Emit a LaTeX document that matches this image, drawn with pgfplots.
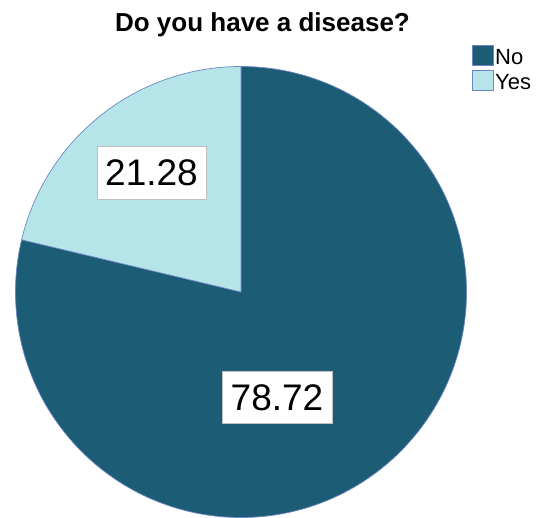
\documentclass[border=0pt]{standalone}
\usepackage{fontspec}
\setmainfont{Liberation Sans}
\usepackage{pgfplots}
\pgfplotsset{compat=1.18}
\usepackage{pgfplotstable}

\definecolor{noCol}{HTML}{1C5D75}
\definecolor{yesCol}{HTML}{B5E5E8}
\definecolor{edgeCol}{HTML}{6F86C6}

% pie values (percent)
\pgfplotstableread{
label value
No 78.72
Yes 21.28
}\piedata
\pgfplotstablegetelem{0}{value}\of\piedata \let\vNo\pgfplotsretval
\pgfplotstablegetelem{1}{value}\of\piedata \let\vYes\pgfplotsretval

\begin{document}
\begin{tikzpicture}
\pgfmathsetmacro\aEnd{90-3.6*\vNo}
\pgfmathsetmacro\xe{241+225.5*cos(\aEnd)}
\pgfmathsetmacro\ye{225+225.5*sin(\aEnd)}
\begin{axis}[x=1pt,y=1pt,xmin=0,xmax=536,ymin=0,ymax=517,
  hide axis,clip=false,scale only axis]
  \path (axis cs:0,0) rectangle (axis cs:536,517);
  % slices
  \fill[noCol] (axis cs:241,225) -- (axis cs:241,450.5)
     arc[start angle=90,end angle=\aEnd,radius=225.5pt] -- cycle;
  \fill[yesCol] (axis cs:241,225) -- (axis cs:\xe,\ye)
     arc[start angle=\aEnd,end angle=-270,radius=225.5pt] -- cycle;
  \draw[edgeCol,line width=0.7pt] (axis cs:241,225) circle[radius=225.5pt];
  \draw[edgeCol,line width=0.7pt] (axis cs:241,450.5) -- (axis cs:241,225) -- (axis cs:\xe,\ye);
  % value labels
  \node[fill=white,draw=black!25,line width=0.8pt,minimum width=109pt,minimum height=53pt,
        inner sep=0pt,font=\fontsize{37}{40}\selectfont]
        at (axis cs:151.5,344.5) {\vYes};
  \node[fill=white,draw=black!25,line width=0.8pt,minimum width=110pt,minimum height=52pt,
        inner sep=0pt,font=\fontsize{37}{40}\selectfont]
        at (axis cs:277,119.5) {\vNo};
  % title
  \node[anchor=base,font=\fontsize{26}{30}\selectfont\bfseries]
        at (axis cs:262.5,485) {Do you have a disease?};
  % legend
  \filldraw[fill=noCol,draw=edgeCol,line width=0.8pt] (axis cs:472,472) rectangle (axis cs:493,452);
  \filldraw[fill=yesCol,draw=edgeCol,line width=0.8pt] (axis cs:472,447) rectangle (axis cs:493,427);
  \node[anchor=base west,inner sep=0pt,font=\fontsize{22}{24}\selectfont] at (axis cs:495,452) {No};
  \node[anchor=base west,inner sep=0pt,font=\fontsize{22}{24}\selectfont] at (axis cs:495,427) {Yes};
\end{axis}
\end{tikzpicture}
\end{document}
